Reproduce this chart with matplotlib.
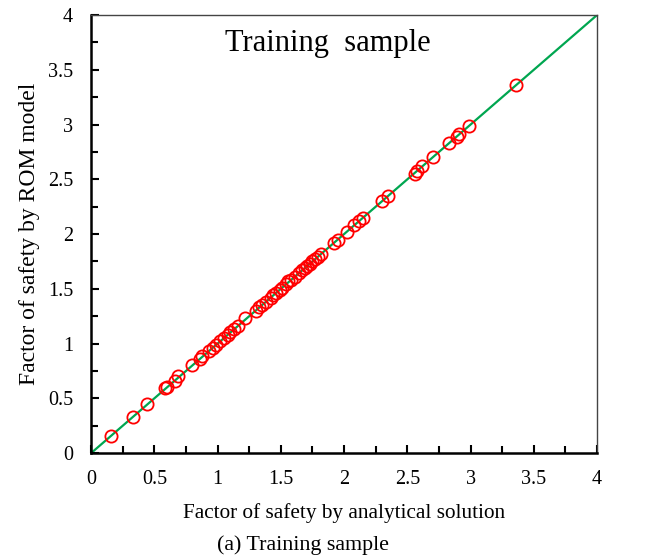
import numpy as np
import matplotlib.pyplot as plt

# analytical FoS vs ROM-predicted FoS (training set)
fos_analytical = [0.16, 0.33, 0.44, 0.58, 0.60, 0.66, 0.69, 0.80, 0.86, 0.88,
                  0.93, 0.96, 0.99, 1.02, 1.05, 1.08, 1.10, 1.13, 1.16, 1.22,
                  1.30, 1.33, 1.35, 1.38, 1.42, 1.44, 1.46, 1.49, 1.51, 1.54,
                  1.56, 1.58, 1.61, 1.64, 1.67, 1.69, 1.71, 1.73, 1.75, 1.77,
                  1.79, 1.82, 1.92, 1.95, 2.02, 2.08, 2.12, 2.15, 2.30, 2.35,
                  2.56, 2.58, 2.62, 2.70, 2.83, 2.89, 2.91, 2.99, 3.36]
fos_rom = [0.16, 0.33, 0.45, 0.59, 0.60, 0.66, 0.70, 0.80, 0.86, 0.89,
           0.93, 0.96, 0.99, 1.02, 1.05, 1.08, 1.11, 1.13, 1.16, 1.23,
           1.30, 1.33, 1.35, 1.38, 1.42, 1.44, 1.46, 1.49, 1.51, 1.54,
           1.57, 1.58, 1.61, 1.64, 1.67, 1.69, 1.71, 1.73, 1.75, 1.77,
           1.79, 1.82, 1.92, 1.95, 2.02, 2.08, 2.12, 2.15, 2.30, 2.35,
           2.55, 2.58, 2.62, 2.70, 2.83, 2.89, 2.91, 2.99, 3.36]
tick_labels = ['0', '0.5', '1', '1.5', '2', '2.5', '3', '3.5', '4']

plt.rcParams['font.family'] = 'Liberation Serif'

fig = plt.figure(figsize=(6.56, 5.6), dpi=100)
ax = fig.add_axes([0.139, 0.191, 0.771, 0.782])

# 1:1 line and the samples
ax.plot([0, 4], [0, 4], color='#00a650', linewidth=1.6, zorder=1)
ax.plot(fos_analytical, fos_rom, linestyle='none', marker='o', markersize=8.8,
        markerfacecolor='none', markeredgecolor='#ff0000', markeredgewidth=1.3, zorder=2)

ax.set_xlim(0, 4)
ax.set_ylim(0, 4)
ax.set_xticks(np.arange(0, 4.01, 0.5))
ax.set_yticks(np.arange(0, 4.01, 0.5))
ax.set_xticklabels(tick_labels)
ax.set_yticklabels(tick_labels)
ax.set_xticks(np.arange(0.25, 4, 0.5), minor=True)
ax.set_yticks(np.arange(0.25, 4, 0.5), minor=True)
ax.tick_params(which='both', direction='in', labelsize=14.5, width=1.5)
ax.tick_params(which='major', length=6)
ax.tick_params(which='minor', length=5)
ax.tick_params(axis='x', pad=12)
ax.tick_params(axis='y', pad=13)
for side in ['left', 'bottom']:
    ax.spines[side].set_linewidth(1.8)
for side in ['right', 'top']:
    ax.spines[side].set_linewidth(1.0)
    ax.spines[side].set_color('#444444')

ax.set_xlabel('Factor of safety by analytical solution', fontsize=15.3, labelpad=10)
ax.set_ylabel('Factor of safety by ROM model', fontsize=17, labelpad=6)
ax.text(1.06, 3.74, 'Training  sample', fontsize=22, va='center', ha='left')

fig.text(0.462, 0.026, '(a) Training sample', fontsize=15.8, ha='center', va='center')

plt.savefig('out.png')
